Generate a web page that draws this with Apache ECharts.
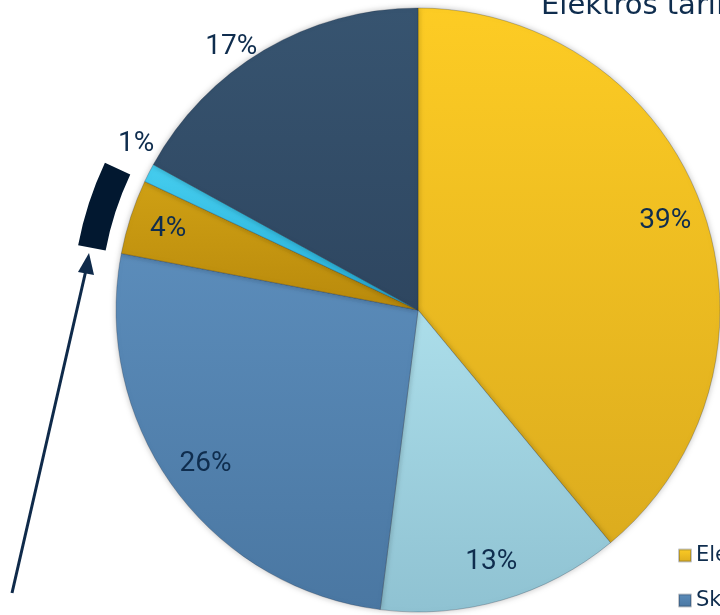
<!DOCTYPE html>
<html>
<head>
<meta charset="utf-8">
<script src="https://cdn.jsdelivr.net/npm/echarts@6/dist/echarts.min.js"></script>
<style>html,body{margin:0;padding:0;background:#fff;}#c{width:720px;height:615px;}</style>
</head>
<body>
<div id="c"></div>
<script>
// ---- data ----
const names = ['Elektros energija', 'Perdavimas', 'Skirstymas', 'Viešuosius interesus atitinkančios paslaugos', 'Tiekimas', 'Kita'];
const values = [39, 13, 26, 4, 1, 17];
const legendNames = ['Elektros energija', 'Skirstymas'];
const highlightIndex = 3;      // slice marked by the black arc
const outsideLabelIdx = [4, 5]; // labels drawn outside the pie
// ---- styles ----
const colorTop = ['#FDCC24', '#ACDEEA', '#5B8CBA', '#CFA014', '#45CDEF', '#375470'];
const colorBot = ['#DCAC1E', '#8FC2D2', '#4A77A2', '#B98A0C', '#28B0D8', '#2E4660'];
const textColor = '#0F2D4E';

const grad = i => new echarts.graphic.LinearGradient(0, 0, 0, 1, [
  {offset: 0, color: colorTop[i]}, {offset: 1, color: colorBot[i]}
]);

const chart = echarts.init(document.getElementById('c'), null, {renderer: 'canvas'});
const center = [418, 310];
const R = 302;

chart.setOption({
  animation: false,
  backgroundColor: '#ffffff',
  title: {
    text: 'Elektros tarifo struktūra',
    left: 536, top: -13,
    textStyle: {fontFamily: 'DejaVu Sans', fontSize: 29, fontWeight: 'normal', color: textColor}
  },
  legend: {
    data: legendNames,
    orient: 'vertical',
    left: 678, top: 545,
    itemWidth: 12, itemHeight: 12, itemGap: 24,
    icon: 'rect',
    padding: 0,
    textStyle: {fontFamily: 'DejaVu Sans', fontSize: 21, color: textColor}
  },
  series: [
    {
      type: 'pie',
      center: center,
      radius: [0, R],
      startAngle: 90,
      clockwise: true,
      avoidLabelOverlap: false,
      itemStyle: {borderColor: 'rgba(20,30,50,0.25)', borderWidth: 1, shadowBlur: 6, shadowColor: 'rgba(0,0,0,0.25)'},
      label: {
        position: 'outside', formatter: '{c}%', alignTo: 'none',
        fontFamily: 'Roboto', fontSize: 28, color: textColor
      },
      labelLine: {show: false, length: 4, length2: 0},
      labelLayout: p => (p.dataIndex === 4 ? {dy: -27, dx: 14} : {}),
      emphasis: {disabled: true},
      data: values.map((v, i) => ({
        value: v, name: names[i],
        itemStyle: {color: grad(i)},
        label: {show: outsideLabelIdx.includes(i)}
      }))
    },
    {
      type: 'pie',
      center: center,
      radius: [R * 0.72, R],
      startAngle: 90,
      silent: true,
      avoidLabelOverlap: false,
      itemStyle: {color: 'rgba(0,0,0,0)', borderWidth: 0},
      label: {
        position: 'inside', formatter: '{c}%',
        fontFamily: 'Roboto', fontSize: 28, color: textColor
      },
      labelLine: {show: false},
      emphasis: {disabled: true},
      data: values.map((v, i) => ({
        value: v, name: names[i] + ' ',
        label: {show: !outsideLabelIdx.includes(i)}
      }))
    },
    {
      type: 'pie',
      center: center,
      radius: [R + 16, R + 44],
      startAngle: 90,
      silent: true,
      label: {show: false},
      labelLine: {show: false},
      emphasis: {disabled: true},
      data: values.map((v, i) => ({
        value: v, name: names[i] + '  ',
        itemStyle: {color: i === highlightIndex ? '#021830' : 'rgba(0,0,0,0)'}
      }))
    }
  ],
  graphic: [
    {type: 'line', shape: {x1: 12, y1: 593, x2: 86, y2: 270}, style: {stroke: '#0F2A4A', lineWidth: 3}},
    {type: 'polygon', shape: {points: [[89, 253], [78, 272], [94, 275]]}, style: {fill: '#0F2A4A'}}
  ]
});
</script>
</body>
</html>
